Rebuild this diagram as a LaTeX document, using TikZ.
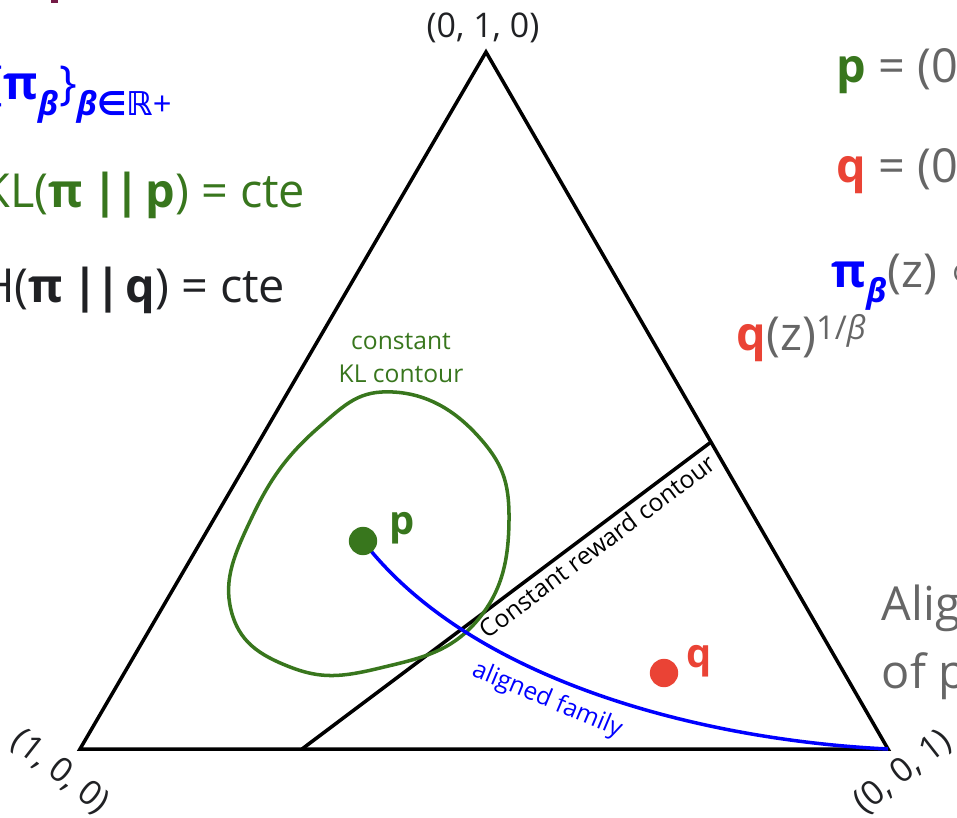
\documentclass[tikz,border=0pt]{standalone}
\usepackage{fontspec}
\setmainfont{Open Sans}
\newfontfamily\symfont{DejaVu Sans}
\usetikzlibrary{positioning}

\definecolor{klgreen}{HTML}{38761D}
\definecolor{qred}{HTML}{EA4335}
\definecolor{txtgray}{HTML}{666666}
\definecolor{txtdark}{HTML}{202124}
\definecolor{titlemag}{HTML}{741B47}

\newcommand{\bpi}{\textbf{π}}
\newcommand{\bbeta}{\textbf{\textit{β}}}
\newcommand{\bbars}{\kern8pt\textbf{|\kern-3pt|}\kern4pt}

\begin{document}
\begin{tikzpicture}[
    x=0.03cm, y=-0.03cm,
    line width=3pt,
    big/.style={
        font=\fontsize{40}{46}\selectfont,
        inner sep=0pt
    },
    vlabel/.style={
        font=\fontsize{29}{33}\selectfont,
        text=txtdark,
        inner sep=0pt
    },
    small/.style={
        font=\fontsize{21}{28}\selectfont,
        inner sep=0pt
    },
    dot/.style={
        circle,
        inner sep=0pt,
        minimum size=0.85cm
    },
    pqlabel/.style={
        font=\fontsize{34}{40}\selectfont\bfseries,
        inner sep=0pt
    }
]
\useasboundingbox (0,0) rectangle (957,818);
\clip (0,0) rectangle (957,818);

% simplex corners and points
\coordinate (top) at (486,52);
\coordinate (left) at (80,749);
\coordinate (right) at (888,749);
\coordinate (r1) at (302,749);
\coordinate (r2) at (711,442);
\coordinate (pc) at (363,541);
\coordinate (qc) at (664,673);

\fill[titlemag] (51,0) rectangle (58,3);

% simplex
\draw (left) -- (top) -- (right) -- cycle;
\draw (r1) -- (r2)
    node[small, pos=0.7, sloped, below=3pt] (reward) {Constant reward contour};

% KL contour
\draw[klgreen] plot[smooth cycle, tension=0.75] coordinates {
    (393,392) (478,436) (509,520) (476,622) (380,668) (290,667)
    (231,610) (253,515) (318,428)};
\node[small, text=klgreen, align=center] (kllab) at (401,358) {constant\\KL contour};

% aligned family
\draw[blue] (pc) .. controls (470,680) and (700,740) .. (right)
    node[small, pos=0.43, sloped, below=8pt, text=blue] (famlab) {aligned family};

\node[dot, fill=klgreen] (p) at (pc) {};
\node[pqlabel, text=klgreen, anchor=base west] (plab) at (388,534) {p};
\node[dot, fill=qred] (q) at (qc) {};
\node[pqlabel, text=qred, anchor=base west] (qlab) at (685,667) {q};

% corner labels
\node[vlabel, anchor=base] (toplab) at (483,38) {(0, 1, 0)};
\node[vlabel, rotate=-38] (leftlab) at (60,772) {(1, 0, 0)};
\node[vlabel, rotate=38] (rightlab) at (903,772) {(0, 0, 1)};

% left text
\node[big, text=blue, anchor=base west] (fam) at (-16,100)
    {\{\bpi\textsubscript{\bbeta}\}\textsubscript{\bbeta{\symfont\bfseries ∈ℝ}+}};
\node[big, text=klgreen, anchor=base east] (kl) at (307,207)
    {KL(\bpi\bbars\textbf{p}) = cte};
\node[big, text=txtdark, anchor=base east] (ce) at (287,302)
    {H(\bpi\bbars\textbf{q}) = cte};

% right text
\node[big, text=txtgray, anchor=base west] (pdef) at (835,83)
    {\textcolor{klgreen}{\textbf{p}} = (0};
\node[big, text=txtgray, anchor=base west] (qdef) at (835,182)
    {\textcolor{qred}{\textbf{q}} = (0};
\node[big, text=txtgray, anchor=base west] (pidef) at (830,287)
    {\textcolor{blue}{\bpi\textsubscript{\bbeta}}(z) {\symfont ∝}};
\node[big, text=txtgray, anchor=base west] (qpow) at (735,350)
    {\textcolor{qred}{\textbf{q}}(z)\textsuperscript{1/\textit{β}}};
\node[big, text=txtgray, anchor=base west] (al1) at (880,620) {Alig};
\node[big, text=txtgray, anchor=base west] (al2) at (880,688) {of p};

\end{tikzpicture}
\end{document}
